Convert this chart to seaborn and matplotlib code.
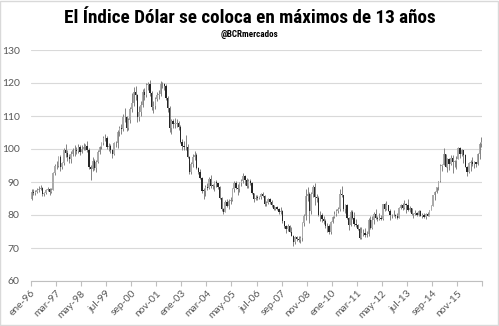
import numpy as np
import pandas as pd
import matplotlib
matplotlib.use("Agg")
import matplotlib.pyplot as plt
from matplotlib import font_manager
from matplotlib.patches import Rectangle
import seaborn as sns

# US Dollar Index (DXY), monthly OHLC, Jan 1996 - Dec 2016
opens = [
    84.8, 87.1, 86.6, 87.0, 87.6, 88.0, 88.2, 86.3, 86.6, 87.6, 87.8, 87.0,
    87.7, 92.7, 94.8, 94.9, 97.5, 94.5, 95.8, 99.7, 98.9, 97.6, 96.9, 98.4,
    99.7, 99.6, 99.3, 100.5, 99.2, 100.1, 100.7, 100.9, 99.8, 94.6, 93.9, 96.5,
    94.2, 96.0, 99.1, 100.5, 101.7, 103.2, 103.2, 100.5, 101.0, 99.7, 98.5, 101.7,
    101.9, 105.2, 106.4, 106.0, 109.7, 109.6, 106.4, 108.7, 112.2, 114.0, 117.4, 116.5,
    109.6, 111.3, 113.3, 117.2, 116.3, 119.5, 119.8, 117.0, 112.6, 113.0, 115.1, 116.4,
    116.8, 119.6, 119.6, 119.1, 115.4, 112.5, 106.5, 108.4, 107.7, 107.7, 107.9, 106.8,
    102.0, 101.0, 100.6, 100.6, 97.6, 92.9, 95.4, 97.7, 98.3, 94.3, 93.1, 91.1,
    87.4, 87.3, 88.6, 88.3, 90.8, 88.9, 88.8, 89.9, 89.6, 88.5, 85.1, 81.8,
    81.0, 83.8, 82.8, 84.3, 84.6, 88.0, 89.6, 88.2, 87.9, 89.6, 90.4, 91.8,
    90.7, 88.7, 90.3, 89.6, 86.6, 84.8, 85.3, 85.2, 85.4, 86.3, 85.7, 83.4,
    83.7, 84.9, 83.8, 82.9, 81.8, 82.3, 81.9, 80.8, 81.3, 78.1, 76.6, 75.8,
    76.7, 75.0, 73.6, 71.8, 73.2, 72.7, 72.4, 73.1, 77.5, 79.8, 85.9, 86.4,
    81.3, 86.3, 88.6, 85.5, 85.3, 79.9, 80.0, 78.7, 78.3, 76.7, 76.6, 74.9,
    77.9, 79.5, 80.3, 81.1, 81.8, 86.3, 86.0, 81.7, 83.1, 79.0, 77.0, 80.9,
    79.0, 77.4, 76.9, 75.9, 73.0, 74.6, 74.4, 74.0, 74.2, 78.5, 76.1, 78.4,
    80.2, 79.0, 78.8, 79.0, 78.9, 83.2, 81.7, 82.9, 81.2, 79.9, 79.9, 80.1,
    79.8, 79.2, 82.0, 83.0, 82.2, 83.3, 83.1, 81.5, 82.1, 80.2, 80.2, 80.7,
    80.0, 81.3, 79.7, 80.1, 79.5, 80.4, 79.8, 81.5, 82.8, 86.0, 87.0, 88.4,
    90.3, 94.8, 95.3, 98.4, 94.6, 96.9, 95.5, 97.3, 96.0, 96.4, 97.0, 100.2,
    98.6, 99.6, 98.2, 94.6, 93.1, 95.9, 96.1, 95.5, 96.0, 95.4, 98.5, 101.5,
]
highs = [
    87.8, 87.9, 87.6, 88.3, 88.9, 89.0, 88.6, 87.0, 88.0, 88.6, 88.3, 88.2,
    93.0, 95.5, 96.3, 97.9, 98.2, 96.2, 100.4, 101.6, 99.6, 98.4, 99.3, 100.3,
    101.1, 100.5, 101.4, 101.2, 101.1, 101.8, 101.6, 102.5, 100.2, 95.3, 97.5, 96.9,
    96.8, 99.6, 100.9, 102.2, 103.8, 104.6, 104.0, 101.8, 101.6, 100.1, 102.1, 102.5,
    105.7, 107.1, 107.5, 110.6, 112.3, 110.0, 109.3, 112.8, 116.9, 118.9, 119.2, 116.8,
    112.9, 114.4, 118.1, 118.6, 119.9, 120.3, 121.0, 117.5, 114.4, 115.8, 117.4, 117.8,
    120.5, 120.2, 120.0, 119.6, 116.0, 112.9, 109.0, 109.2, 109.3, 109.0, 108.5, 107.3,
    103.0, 102.3, 104.2, 101.4, 98.0, 96.0, 98.4, 99.4, 98.8, 94.6, 93.8, 91.4,
    88.3, 89.0, 89.6, 91.6, 92.2, 89.4, 90.3, 90.7, 89.8, 88.9, 85.4, 82.1,
    84.6, 84.9, 84.8, 85.4, 88.2, 90.2, 90.3, 89.3, 90.1, 90.9, 92.6, 92.1,
    91.2, 90.8, 91.0, 90.0, 86.8, 86.2, 86.0, 85.8, 86.6, 87.0, 86.0, 84.3,
    85.3, 85.1, 84.5, 83.1, 82.5, 82.8, 82.2, 82.5, 81.4, 78.2, 77.0, 77.4,
    77.0, 76.4, 74.0, 73.6, 73.5, 73.7, 73.5, 77.8, 80.4, 87.9, 88.5, 87.1,
    86.9, 89.2, 89.6, 86.5, 85.7, 81.2, 80.6, 79.8, 78.7, 77.5, 77.2, 78.2,
    79.7, 81.3, 81.9, 82.4, 88.0, 88.7, 86.2, 83.4, 83.3, 79.3, 81.4, 81.4,
    81.0, 78.7, 77.3, 76.4, 76.4, 75.9, 76.2, 75.2, 79.0, 79.6, 79.8, 80.8,
    81.8, 79.6, 80.5, 80.1, 83.3, 83.6, 84.1, 83.0, 81.7, 80.4, 81.4, 80.3,
    80.5, 82.3, 83.2, 83.6, 84.5, 83.6, 84.7, 82.6, 82.1, 80.6, 81.5, 80.9,
    81.5, 81.4, 80.5, 80.5, 80.6, 80.8, 81.6, 82.9, 86.1, 87.4, 88.4, 90.4,
    95.5, 95.4, 100.4, 98.4, 97.4, 97.4, 98.1, 98.3, 96.8, 97.9, 100.5, 100.5,
    99.9, 99.7, 98.4, 95.0, 96.0, 96.7, 97.6, 96.3, 96.2, 98.7, 102.0, 103.6,
]
lows = [
    84.5, 86.0, 86.0, 86.7, 87.1, 87.5, 85.9, 85.8, 86.4, 87.2, 86.2, 86.8,
    87.5, 92.2, 94.0, 94.5, 93.3, 94.0, 95.3, 97.6, 96.5, 95.8, 95.9, 97.9,
    98.0, 98.5, 98.9, 98.3, 98.9, 99.7, 99.8, 99.0, 93.8, 90.5, 93.2, 93.5,
    92.9, 95.8, 98.6, 100.0, 101.2, 102.4, 100.1, 99.5, 98.7, 97.2, 98.2, 100.7,
    100.3, 103.9, 104.6, 105.4, 108.3, 105.4, 105.9, 107.9, 111.2, 113.1, 115.0, 108.3,
    108.6, 110.1, 112.8, 115.0, 115.8, 118.0, 116.2, 111.9, 110.8, 112.2, 114.6, 115.1,
    116.2, 118.6, 118.0, 114.8, 111.2, 105.3, 104.6, 106.5, 106.3, 106.7, 105.7, 101.7,
    99.8, 99.7, 99.6, 97.2, 92.3, 92.5, 94.4, 96.7, 94.0, 92.4, 90.9, 86.7,
    84.8, 85.7, 87.6, 88.0, 88.3, 87.9, 87.4, 88.6, 87.8, 84.9, 81.3, 80.4,
    80.9, 82.3, 81.7, 83.3, 84.3, 87.0, 87.8, 86.0, 86.9, 88.8, 89.6, 89.1,
    88.2, 88.2, 89.0, 86.3, 84.0, 84.4, 84.6, 84.7, 84.9, 85.5, 82.8, 82.7,
    83.3, 83.3, 82.5, 81.4, 81.5, 81.5, 80.2, 80.2, 77.6, 76.2, 74.5, 75.2,
    74.8, 73.5, 70.7, 71.3, 72.1, 71.7, 71.4, 72.2, 76.7, 78.6, 84.2, 77.7,
    80.2, 85.5, 83.0, 83.9, 79.8, 78.3, 77.9, 77.4, 76.0, 74.9, 74.2, 74.3,
    77.5, 79.0, 79.8, 80.5, 81.2, 85.5, 81.2, 80.6, 78.9, 75.6, 76.7, 78.7,
    76.8, 76.3, 75.6, 72.8, 72.7, 73.5, 73.4, 73.4, 73.6, 75.8, 75.8, 77.4,
    78.9, 78.1, 78.6, 78.6, 78.6, 81.3, 81.6, 81.2, 78.6, 79.0, 79.7, 79.0,
    78.9, 79.0, 81.7, 81.6, 81.8, 80.5, 81.3, 81.0, 80.0, 79.0, 80.1, 79.7,
    79.8, 79.6, 79.0, 79.2, 78.9, 79.8, 79.7, 81.4, 82.7, 84.5, 86.6, 87.7,
    90.1, 93.2, 95.1, 94.5, 93.1, 93.5, 95.1, 92.6, 94.5, 93.8, 96.9, 97.2,
    97.8, 95.9, 94.6, 91.9, 92.6, 93.4, 95.0, 94.1, 94.4, 95.1, 97.0, 100.5,
]
closes = [
    87.1, 86.6, 87.0, 87.6, 88.0, 88.2, 86.3, 86.6, 87.6, 87.8, 87.0, 87.7,
    92.7, 94.8, 94.9, 97.5, 94.5, 95.8, 99.7, 98.9, 97.6, 96.9, 98.4, 99.7,
    99.6, 99.3, 100.5, 99.2, 100.1, 100.7, 100.9, 99.8, 94.6, 93.9, 96.5, 94.2,
    96.0, 99.1, 100.5, 101.7, 103.2, 103.2, 100.5, 101.0, 99.7, 98.5, 101.7, 101.9,
    105.2, 106.4, 106.0, 109.7, 109.6, 106.4, 108.7, 112.2, 114.0, 117.4, 116.5, 109.6,
    111.3, 113.3, 117.2, 116.3, 119.5, 119.8, 117.0, 112.6, 113.0, 115.1, 116.4, 116.8,
    119.6, 119.6, 119.1, 115.4, 112.5, 106.5, 108.4, 107.7, 107.7, 107.9, 106.8, 102.0,
    101.0, 100.6, 100.6, 97.6, 92.9, 95.4, 97.7, 98.3, 94.3, 93.1, 91.1, 87.4,
    87.3, 88.6, 88.3, 90.8, 88.9, 88.8, 89.9, 89.6, 88.5, 85.1, 81.8, 81.0,
    83.8, 82.8, 84.3, 84.6, 88.0, 89.6, 88.2, 87.9, 89.6, 90.4, 91.8, 90.7,
    88.7, 90.3, 89.6, 86.6, 84.8, 85.3, 85.2, 85.4, 86.3, 85.7, 83.4, 83.7,
    84.9, 83.8, 82.9, 81.8, 82.3, 81.9, 80.8, 81.3, 78.1, 76.6, 75.8, 76.7,
    75.0, 73.6, 71.8, 73.2, 72.7, 72.4, 73.1, 77.5, 79.8, 85.9, 86.4, 81.3,
    86.3, 88.6, 85.5, 85.3, 79.9, 80.0, 78.7, 78.3, 76.7, 76.6, 74.9, 77.9,
    79.5, 80.3, 81.1, 81.8, 86.3, 86.0, 81.7, 83.1, 79.0, 77.0, 80.9, 79.0,
    77.4, 76.9, 75.9, 73.0, 74.6, 74.4, 74.0, 74.2, 78.5, 76.1, 78.4, 80.2,
    79.0, 78.8, 79.0, 78.9, 83.2, 81.7, 82.9, 81.2, 79.9, 79.9, 80.1, 79.8,
    79.2, 82.0, 83.0, 82.2, 83.3, 83.1, 81.5, 82.1, 80.2, 80.2, 80.7, 80.0,
    81.3, 79.7, 80.1, 79.5, 80.4, 79.8, 81.5, 82.8, 86.0, 87.0, 88.4, 90.3,
    94.8, 95.3, 98.4, 94.6, 96.9, 95.5, 97.3, 96.0, 96.4, 97.0, 100.2, 98.6,
    99.6, 98.2, 94.6, 93.1, 95.9, 96.1, 95.5, 96.0, 95.4, 98.5, 101.5, 102.2,
]

month_names = ["ene", "feb", "mar", "abr", "may", "jun",
               "jul", "ago", "sep", "oct", "nov", "dic"]
tick_step = 14
y_ticks = [60, 70, 80, 90, 100, 110, 120, 130]

title = "El Índice Dólar se coloca en máximos de 13 años"
subtitle = "@BCRmercados"

df = pd.DataFrame({"open": opens, "high": highs, "low": lows, "close": closes})
df["pos"] = np.arange(len(df)) + 0.5
df["up"] = df["close"] >= df["open"]
df["body_lo"] = df[["open", "close"]].min(axis=1)
df["body_h"] = (df["close"] - df["open"]).abs().clip(lower=0.15)

sns.set_theme(style="white")
plt.rcParams["font.family"] = ["Lato", "DejaVu Sans"]

W, H = 499, 326
fig = plt.figure(figsize=(W / 100, H / 100), dpi=100)
ax = fig.add_axes([30.7 / W, 1 - 281 / H, (482.3 - 30.7) / W, (281 - 50) / H])

# high-low range
ax.vlines(df["pos"], df["low"], df["high"], color="#7a7a7a", lw=0.65, zorder=2)
# open-close bodies: rising months light, falling months dark
up = df[df["up"]]
dn = df[~df["up"]]
ax.bar(up["pos"], up["body_h"], bottom=up["body_lo"], width=0.75,
       color="#ababab", lw=0, zorder=3)
ax.bar(dn["pos"], dn["body_h"], bottom=dn["body_lo"], width=0.75,
       color="#262626", lw=0, zorder=3)

n_months = len(df)
ax.set_xlim(0, n_months)
ax.set_ylim(60, 130)
ax.set_yticks(y_ticks)
ax.set_yticklabels([str(v) for v in y_ticks])

xt = np.arange(0, n_months + 1, tick_step)
labels = []
for m in xt:
    if m >= n_months:
        labels.append("")
    else:
        labels.append(f"{month_names[m % 12]}-{(1996 + m // 12) % 100:02d}")
ax.set_xticks(xt)
ax.set_xticklabels(labels, rotation=45, ha="right", rotation_mode="anchor")

ax.yaxis.grid(True, color="#d9d9d9", lw=0.8)
ax.xaxis.grid(False)
ax.set_axisbelow(True)
for s in ["top", "right", "left"]:
    ax.spines[s].set_visible(False)
ax.spines["bottom"].set_color("#bfbfbf")
ax.spines["bottom"].set_linewidth(0.8)
ax.tick_params(axis="y", length=0, pad=8, labelsize=7.5, labelcolor="#595959")
ax.tick_params(axis="x", length=3.5, width=0.8, color="#bfbfbf", direction="out",
               pad=2, labelsize=7.5, labelcolor="#595959", bottom=True)

# heading: a condensed face when one is installed, otherwise a smaller DejaVu
head_font, title_size, sub_size = "DejaVu Sans", 11, 6
for cand in ["Roboto Condensed", "Open Sans Condensed", "Liberation Sans Narrow"]:
    try:
        font_manager.findfont(font_manager.FontProperties(family=cand, weight="bold"),
                              fallback_to_default=False)
        head_font, title_size, sub_size = cand, 13.8, 6.5
        break
    except ValueError:
        pass

fig.text(0.5, 1 - 18 / H, title, ha="center", va="center", fontsize=title_size,
         fontweight="bold", family=head_font, color="#000000")
fig.text(0.5, 1 - 34.5 / H, subtitle, ha="center", va="center", fontsize=sub_size,
         fontweight="bold", family=head_font, color="#000000")

fig.patches.append(Rectangle((0.001, 0.002), 0.997, 0.996, transform=fig.transFigure,
                             fill=False, edgecolor="#d9d9d9", lw=1))

fig.savefig("out.png", dpi=100)
